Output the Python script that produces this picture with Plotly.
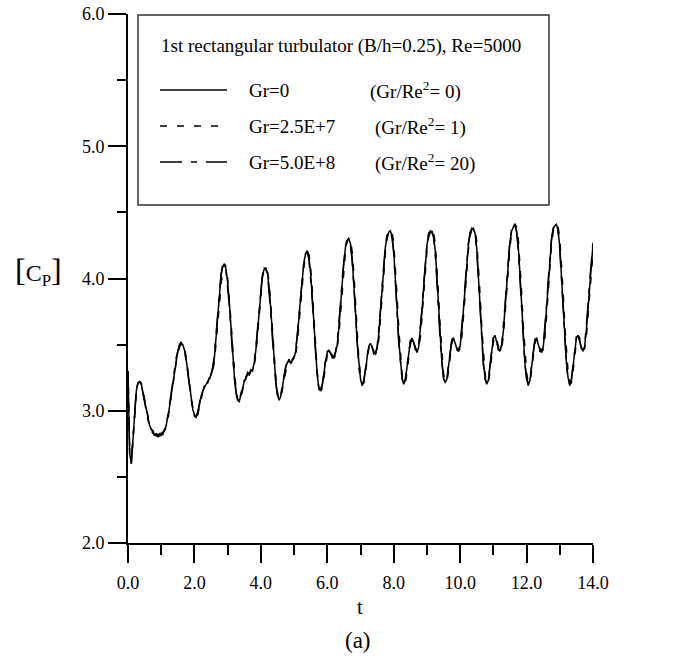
import plotly.graph_objects as go

# pressure coefficient history, sampled every 0.05 time units
t = [round(0.05 * i, 2) for i in range(281)]

cp_gr0 = [
    3.30, 2.68, 2.60, 2.80, 3.02, 3.15, 3.21, 3.22, 3.20, 3.14,
    3.07, 3.00, 2.94, 2.89, 2.86, 2.84, 2.81, 2.83, 2.80, 2.83,
    2.81, 2.84, 2.85, 2.89, 2.95, 3.03, 3.12, 3.21, 3.30, 3.39,
    3.45, 3.49, 3.51, 3.50, 3.46, 3.39, 3.29, 3.18, 3.08, 3.01,
    2.97, 2.96, 2.98, 3.05, 3.11, 3.15, 3.18, 3.20, 3.22, 3.24,
    3.27, 3.31, 3.40, 3.55, 3.72, 3.89, 4.02, 4.09, 4.11, 4.07,
    3.97, 3.82, 3.63, 3.44, 3.27, 3.15, 3.08, 3.07, 3.12, 3.18,
    3.22, 3.25, 3.28, 3.27, 3.30, 3.31, 3.36, 3.46, 3.61, 3.77,
    3.92, 4.03, 4.07, 4.08, 4.04, 3.93, 3.76, 3.56, 3.37, 3.22,
    3.12, 3.08, 3.11, 3.19, 3.27, 3.33, 3.37, 3.38, 3.36, 3.38,
    3.40, 3.45, 3.56, 3.71, 3.87, 4.02, 4.13, 4.19, 4.20, 4.15,
    4.03, 3.85, 3.63, 3.42, 3.26, 3.17, 3.15, 3.19, 3.29, 3.38,
    3.44, 3.46, 3.43, 3.41, 3.40, 3.44, 3.50, 3.63, 3.80, 3.98,
    4.13, 4.24, 4.29, 4.30, 4.26, 4.15, 3.97, 3.74, 3.51, 3.34,
    3.24, 3.19, 3.22, 3.31, 3.42, 3.49, 3.51, 3.48, 3.44, 3.43,
    3.47, 3.58, 3.74, 3.92, 4.10, 4.24, 4.32, 4.35, 4.36, 4.32,
    4.21, 4.02, 3.78, 3.54, 3.36, 3.25, 3.20, 3.23, 3.33, 3.45,
    3.52, 3.55, 3.51, 3.47, 3.44, 3.48, 3.59, 3.75, 3.93, 4.11,
    4.25, 4.33, 4.35, 4.36, 4.32, 4.21, 4.02, 3.78, 3.54, 3.36,
    3.25, 3.21, 3.24, 3.34, 3.46, 3.53, 3.55, 3.50, 3.47, 3.45,
    3.49, 3.60, 3.76, 3.94, 4.12, 4.26, 4.34, 4.37, 4.38, 4.34,
    4.23, 4.03, 3.79, 3.55, 3.36, 3.25, 3.20, 3.23, 3.34, 3.47,
    3.55, 3.57, 3.52, 3.47, 3.45, 3.49, 3.60, 3.77, 3.95, 4.13,
    4.28, 4.36, 4.39, 4.41, 4.36, 4.24, 4.04, 3.79, 3.55, 3.36,
    3.25, 3.19, 3.23, 3.34, 3.46, 3.53, 3.55, 3.51, 3.46, 3.44,
    3.48, 3.60, 3.77, 3.96, 4.14, 4.29, 4.37, 4.40, 4.41, 4.36,
    4.24, 4.04, 3.79, 3.55, 3.36, 3.25, 3.19, 3.23, 3.34, 3.47,
    3.55, 3.57, 3.52, 3.48, 3.45, 3.49, 3.61, 3.78, 3.96, 4.12,
    4.26,
]

cp_gr25e7 = [
    3.30, 2.70, 2.61, 2.78, 3.00, 3.14, 3.20, 3.22, 3.21, 3.15,
    3.08, 3.01, 2.95, 2.90, 2.86, 2.85, 2.82, 2.82, 2.81, 2.82,
    2.82, 2.83, 2.85, 2.88, 2.93, 3.01, 3.10, 3.19, 3.28, 3.37,
    3.44, 3.48, 3.51, 3.51, 3.47, 3.41, 3.31, 3.20, 3.10, 3.02,
    2.98, 2.96, 2.97, 3.03, 3.10, 3.14, 3.17, 3.21, 3.21, 3.25,
    3.26, 3.30, 3.37, 3.51, 3.68, 3.85, 3.99, 4.08, 4.11, 4.09,
    4.00, 3.86, 3.68, 3.48, 3.30, 3.17, 3.09, 3.06, 3.10, 3.17,
    3.21, 3.26, 3.27, 3.28, 3.29, 3.32, 3.34, 3.43, 3.57, 3.73,
    3.89, 4.01, 4.07, 4.08, 4.06, 3.96, 3.80, 3.60, 3.41, 3.25,
    3.14, 3.08, 3.10, 3.17, 3.25, 3.32, 3.36, 3.39, 3.36, 3.37,
    3.40, 3.43, 3.52, 3.67, 3.83, 3.98, 4.10, 4.18, 4.20, 4.18,
    4.08, 3.91, 3.69, 3.47, 3.29, 3.19, 3.15, 3.17, 3.26, 3.36,
    3.42, 3.46, 3.44, 3.42, 3.40, 3.42, 3.48, 3.58, 3.75, 3.93,
    4.09, 4.21, 4.28, 4.31, 4.29, 4.20, 4.04, 3.82, 3.58, 3.39,
    3.27, 3.20, 3.21, 3.28, 3.39, 3.47, 3.51, 3.49, 3.45, 3.43,
    3.45, 3.54, 3.69, 3.87, 4.05, 4.20, 4.30, 4.35, 4.37, 4.35,
    4.27, 4.10, 3.87, 3.63, 3.42, 3.28, 3.21, 3.21, 3.29, 3.41,
    3.50, 3.55, 3.53, 3.48, 3.45, 3.46, 3.55, 3.70, 3.88, 4.06,
    4.21, 4.31, 4.35, 4.37, 4.35, 4.27, 4.10, 3.87, 3.63, 3.42,
    3.28, 3.22, 3.22, 3.30, 3.42, 3.51, 3.55, 3.52, 3.48, 3.45,
    3.47, 3.56, 3.71, 3.89, 4.07, 4.22, 4.32, 4.37, 4.38, 4.36,
    4.28, 4.11, 3.88, 3.64, 3.42, 3.28, 3.21, 3.21, 3.30, 3.43,
    3.52, 3.57, 3.54, 3.49, 3.45, 3.47, 3.56, 3.72, 3.90, 4.08,
    4.24, 4.34, 4.39, 4.41, 4.39, 4.30, 4.13, 3.90, 3.65, 3.43,
    3.29, 3.21, 3.21, 3.30, 3.42, 3.51, 3.55, 3.53, 3.48, 3.45,
    3.46, 3.55, 3.71, 3.90, 4.09, 4.25, 4.35, 4.40, 4.41, 4.39,
    4.30, 4.13, 3.90, 3.65, 3.43, 3.29, 3.21, 3.21, 3.30, 3.43,
    3.52, 3.57, 3.55, 3.50, 3.46, 3.47, 3.56, 3.72, 3.90, 4.06,
    4.20,
]

cp_gr5e8 = [
    3.30, 2.67, 2.60, 2.81, 3.03, 3.16, 3.21, 3.23, 3.20, 3.13,
    3.06, 3.00, 2.93, 2.89, 2.85, 2.83, 2.82, 2.81, 2.82, 2.81,
    2.83, 2.82, 2.86, 2.90, 2.96, 3.04, 3.13, 3.22, 3.31, 3.40,
    3.46, 3.50, 3.52, 3.49, 3.45, 3.38, 3.28, 3.17, 3.07, 3.00,
    2.96, 2.95, 2.99, 3.06, 3.12, 3.14, 3.19, 3.21, 3.23, 3.23,
    3.28, 3.33, 3.42, 3.57, 3.74, 3.90, 4.03, 4.10, 4.11, 4.06,
    3.95, 3.80, 3.61, 3.42, 3.25, 3.14, 3.07, 3.08, 3.13, 3.19,
    3.23, 3.24, 3.29, 3.28, 3.31, 3.30, 3.37, 3.48, 3.63, 3.79,
    3.93, 4.04, 4.08, 4.07, 4.03, 3.91, 3.74, 3.54, 3.35, 3.21,
    3.11, 3.09, 3.12, 3.20, 3.28, 3.34, 3.36, 3.39, 3.35, 3.39,
    3.41, 3.46, 3.58, 3.73, 3.89, 4.03, 4.14, 4.19, 4.21, 4.14,
    4.01, 3.83, 3.61, 3.40, 3.25, 3.16, 3.16, 3.20, 3.30, 3.39,
    3.45, 3.45, 3.44, 3.40, 3.41, 3.45, 3.52, 3.65, 3.82, 4.00,
    4.15, 4.25, 4.30, 4.29, 4.25, 4.13, 3.95, 3.72, 3.49, 3.33,
    3.23, 3.20, 3.23, 3.32, 3.43, 3.50, 3.50, 3.49, 3.43, 3.44,
    3.48, 3.60, 3.76, 3.94, 4.12, 4.25, 4.33, 4.36, 4.35, 4.31,
    4.19, 4.00, 3.76, 3.52, 3.35, 3.24, 3.21, 3.24, 3.34, 3.46,
    3.53, 3.54, 3.52, 3.46, 3.45, 3.49, 3.61, 3.77, 3.95, 4.13,
    4.26, 4.34, 4.36, 4.35, 4.31, 4.19, 4.00, 3.76, 3.52, 3.35,
    3.24, 3.22, 3.25, 3.35, 3.47, 3.54, 3.54, 3.51, 3.46, 3.46,
    3.50, 3.62, 3.78, 3.96, 4.14, 4.27, 4.35, 4.38, 4.37, 4.33,
    4.21, 4.01, 3.77, 3.53, 3.35, 3.24, 3.21, 3.24, 3.35, 3.48,
    3.56, 3.56, 3.53, 3.46, 3.46, 3.50, 3.62, 3.79, 3.97, 4.15,
    4.29, 4.37, 4.40, 4.40, 4.35, 4.22, 4.02, 3.77, 3.53, 3.35,
    3.24, 3.20, 3.24, 3.35, 3.47, 3.54, 3.54, 3.52, 3.45, 3.45,
    3.49, 3.62, 3.79, 3.98, 4.16, 4.30, 4.38, 4.41, 4.40, 4.35,
    4.22, 4.02, 3.77, 3.53, 3.35, 3.24, 3.20, 3.24, 3.35, 3.48,
    3.56, 3.56, 3.53, 3.47, 3.46, 3.50, 3.63, 3.80, 3.98, 4.14,
    4.27,
]

series = [
    ("Gr=0", "(Gr/Re<sup>2</sup>= 0)", cp_gr0, "solid"),
    ("Gr=2.5E+7", "(Gr/Re<sup>2</sup>= 1)", cp_gr25e7, "7px,10px"),
    ("Gr=5.0E+8", "(Gr/Re<sup>2</sup>= 20)", cp_gr5e8, "22px,9px,6px,9px"),
]
legend_title = "1st rectangular turbulator (B/h=0.25), Re=5000"

FONT = "Liberation Serif, Times New Roman, serif"

# plot area in page pixels
L, R, T, B = 128, 593, 14, 543
W, H = R - L, B - T


def px(x):
    return (x - L) / W


def py(y):
    return (B - y) / H


fig = go.Figure()
for name, ratio, vals, dash in series:
    fig.add_trace(go.Scatter(
        x=t, y=vals, mode="lines", name=name, showlegend=False,
        line=dict(color="black", width=1.5, dash=dash),
    ))

# hand-made legend box
fig.add_shape(type="rect", xref="paper", yref="paper",
              x0=px(138), x1=px(549), y0=py(205), y1=py(15),
              line=dict(color="#333", width=1.5), fillcolor="white", layer="above")
fig.add_annotation(x=px(159), y=py(46), xref="paper", yref="paper",
                   text=legend_title, showarrow=False, xanchor="left",
                   yanchor="middle", font=dict(family=FONT, size=19, color="black"))
rows = [90, 126, 162]
for (name, ratio, vals, dash), ry in zip(series, rows):
    fig.add_shape(type="line", xref="paper", yref="paper",
                  x0=px(160), x1=px(227), y0=py(ry), y1=py(ry),
                  line=dict(color="black", width=1.3, dash=dash), layer="above")
    fig.add_annotation(x=px(247), y=py(ry), xref="paper", yref="paper",
                       text=name, showarrow=False, xanchor="left", yanchor="middle",
                       font=dict(family=FONT, size=19, color="black"))
    fig.add_annotation(x=px(368 if name == "Gr=0" else 373), y=py(ry),
                       xref="paper", yref="paper", text=ratio, showarrow=False,
                       xanchor="left", yanchor="middle",
                       font=dict(family=FONT, size=19, color="black"))

# axis titles and caption
fig.add_annotation(x=px(38), y=py(271), xref="paper", yref="paper",
                   text="<span style='font-size:32px'>[</span>C<sub>P</sub><span style='font-size:32px'>]</span>",
                   showarrow=False, xanchor="center", yanchor="middle",
                   font=dict(family=FONT, size=24, color="black"))
fig.add_annotation(x=px(360), y=py(607), xref="paper", yref="paper", text="t",
                   showarrow=False, xanchor="center", yanchor="middle",
                   font=dict(family=FONT, size=21, color="black"))
fig.add_annotation(x=px(358), y=py(640), xref="paper", yref="paper", text="(a)",
                   showarrow=False, xanchor="center", yanchor="middle",
                   font=dict(family=FONT, size=23, color="black"))

axis_common = dict(
    showline=True, linecolor="black", linewidth=2, mirror=False,
    ticks="outside", ticklen=18, tickwidth=2, tickcolor="black",
    showgrid=False, zeroline=False, tickformat=".1f", automargin=False,
    tickfont=dict(family=FONT, size=18, color="black"),
)
fig.update_xaxes(range=[0, 14], dtick=2, tick0=0, ticklabelstandoff=4,
                 minor=dict(dtick=1, ticks="outside", ticklen=10, tickwidth=2,
                            tickcolor="black", showgrid=False),
                 **axis_common)
fig.update_yaxes(range=[2, 6], dtick=1, tick0=2,
                 minor=dict(dtick=0.5, ticks="outside", ticklen=9, tickwidth=2,
                            tickcolor="black", showgrid=False),
                 **axis_common)

fig.update_layout(
    width=678, height=658,
    margin=dict(l=L, r=678 - R, t=T, b=658 - B),
    paper_bgcolor="white", plot_bgcolor="white",
    font=dict(family=FONT, color="black"),
)

# drop the default body margin so the figure sits at the page corner
fig.write_html("out.html", config={"displayModeBar": False},
               post_script="document.body.style.margin='0';")
